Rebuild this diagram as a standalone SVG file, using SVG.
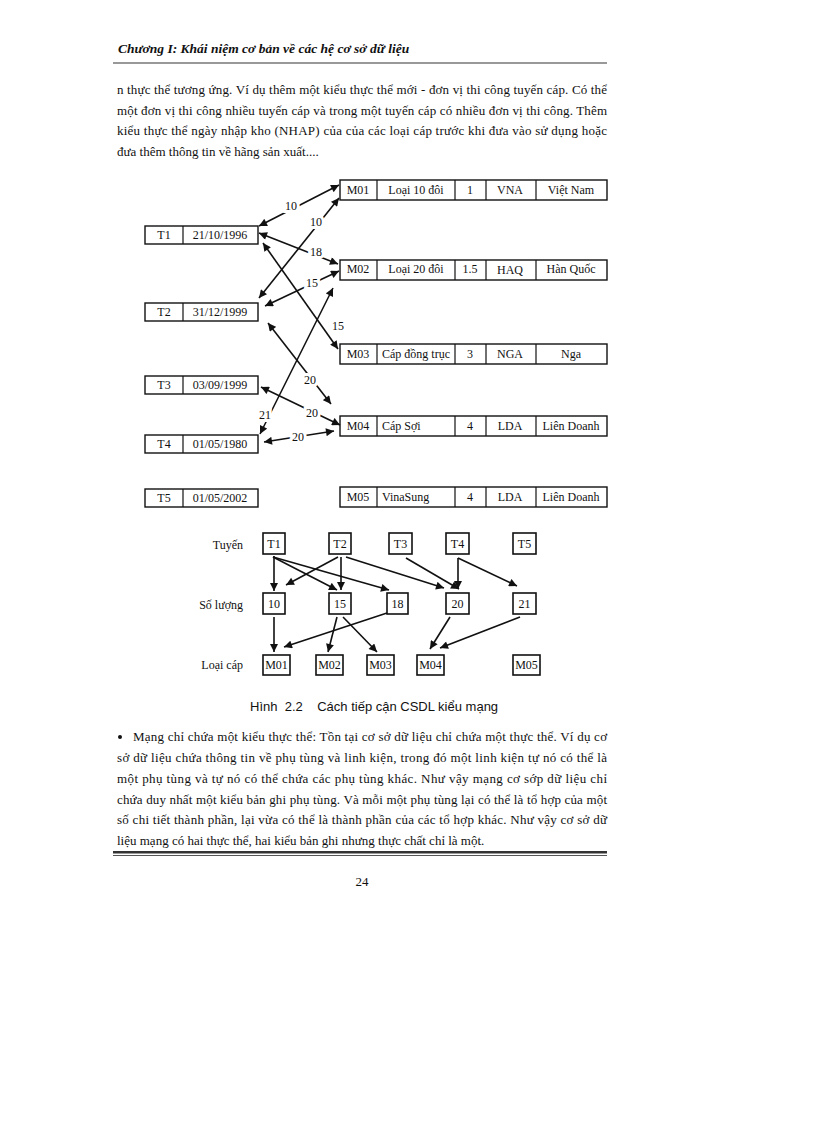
<svg xmlns="http://www.w3.org/2000/svg" width="816" height="1123" viewBox="0 0 816 1123">
<style>
.body{font-family:"Liberation Serif","Times New Roman",serif;font-size:13px;fill:#111}
.hdr{font-family:"Liberation Serif","Times New Roman",serif;font-size:13.5px;font-weight:bold;font-style:italic;fill:#111}
.cap{font-family:"Liberation Sans",Arial,sans-serif;font-size:13px;fill:#111}
.dt{font-family:"Liberation Serif","Times New Roman",serif;font-size:12px;fill:#111}
.mid{text-anchor:middle}
.box{fill:#fff;stroke:#111;stroke-width:1.4}
.sbox{fill:#fff;stroke:#111;stroke-width:1.6}
.div{stroke:#111;stroke-width:1.2}
.con{stroke:#111;stroke-width:1.6;fill:none;marker-end:url(#ah)}
.dbl{stroke:#111;stroke-width:1.6;fill:none;marker-end:url(#ah);marker-start:url(#ah)}
.lbl{font-family:"Liberation Serif","Times New Roman",serif;font-size:12px;fill:#111;stroke:#fff;stroke-width:6;paint-order:stroke;text-anchor:middle}
</style>
<defs>
<marker id="ah" viewBox="0 0 10 10" refX="10" refY="5" markerWidth="9" markerHeight="8" markerUnits="userSpaceOnUse" orient="auto-start-reverse"><path d="M0,0 L10,5 L0,10 z" fill="#111"/></marker>
</defs>
<rect width="816" height="1123" fill="#fff"/>

<g id="header">
<text class="hdr" x="118" y="53">Chương I:  Khái niệm cơ bản về các hệ cơ sở dữ liệu</text>
<line x1="113" y1="63" x2="607" y2="63" stroke="#999" stroke-width="2"/>
</g>

<g id="para1" class="body">
<text x="117" y="94" textLength="490" lengthAdjust="spacing">n thực thể tương ứng. Ví dụ thêm một kiểu thực thể mới - đơn vị thi công tuyến cáp. Có thể</text>
<text x="117" y="115" textLength="490" lengthAdjust="spacing">một đơn vị thi công nhiều tuyến cáp và trong một tuyến cáp có nhiều đơn vị thi công. Thêm</text>
<text x="117" y="135" textLength="490" lengthAdjust="spacing">kiểu thực thể ngày nhập kho (NHAP) của của các loại cáp trước khi đưa vào sử dụng hoặc</text>
<text x="117" y="156">đưa thêm thông tin về hãng sản xuất....</text>
</g>

<!-- Upper network diagram -->
<g id="T1"><rect class="box" x="145" y="226" width="113" height="18"/><line class="div" x1="183" y1="226" x2="183" y2="244"/><text class="dt mid" x="164" y="239">T1</text><text class="dt mid" x="220" y="239">21/10/1996</text></g>
<g id="T2"><rect class="box" x="145" y="303" width="113" height="18"/><line class="div" x1="183" y1="303" x2="183" y2="321"/><text class="dt mid" x="164" y="316">T2</text><text class="dt mid" x="220" y="316">31/12/1999</text></g>
<g id="T3"><rect class="box" x="145" y="376" width="113" height="18"/><line class="div" x1="183" y1="376" x2="183" y2="394"/><text class="dt mid" x="164" y="389">T3</text><text class="dt mid" x="220" y="389">03/09/1999</text></g>
<g id="T4"><rect class="box" x="145" y="435" width="113" height="18"/><line class="div" x1="183" y1="435" x2="183" y2="453"/><text class="dt mid" x="164" y="448">T4</text><text class="dt mid" x="220" y="448">01/05/1980</text></g>
<g id="T5"><rect class="box" x="145" y="489" width="113" height="18"/><line class="div" x1="183" y1="489" x2="183" y2="507"/><text class="dt mid" x="164" y="502">T5</text><text class="dt mid" x="220" y="502">01/05/2002</text></g>

<g id="M01"><rect class="box" x="340" y="180" width="267" height="20"/><line class="div" x1="377" y1="180" x2="377" y2="200"/><line class="div" x1="455" y1="180" x2="455" y2="200"/><line class="div" x1="486" y1="180" x2="486" y2="200"/><line class="div" x1="536" y1="180" x2="536" y2="200"/>
<text class="dt mid" x="358" y="194">M01</text><text class="dt mid" x="416" y="194">Loại 10 đôi</text><text class="dt mid" x="470" y="194">1</text><text class="dt mid" x="510" y="194">VNA</text><text class="dt mid" x="571" y="194">Việt Nam</text></g>
<g id="M02"><rect class="box" x="340" y="260" width="267" height="20"/><line class="div" x1="377" y1="260" x2="377" y2="280"/><line class="div" x1="455" y1="260" x2="455" y2="280"/><line class="div" x1="486" y1="260" x2="486" y2="280"/><line class="div" x1="536" y1="260" x2="536" y2="280"/>
<text class="dt mid" x="358" y="273">M02</text><text class="dt mid" x="416" y="273">Loại 20 đôi</text><text class="dt mid" x="470" y="273">1.5</text><text class="dt mid" x="510" y="274">HAQ</text><text class="dt mid" x="571" y="273">Hàn Quốc</text></g>
<g id="M03"><rect class="box" x="340" y="344" width="267" height="20"/><line class="div" x1="377" y1="344" x2="377" y2="364"/><line class="div" x1="455" y1="344" x2="455" y2="364"/><line class="div" x1="486" y1="344" x2="486" y2="364"/><line class="div" x1="536" y1="344" x2="536" y2="364"/>
<text class="dt mid" x="358" y="358">M03</text><text class="dt mid" x="416" y="358">Cáp đồng trục</text><text class="dt mid" x="470" y="358">3</text><text class="dt mid" x="510" y="358">NGA</text><text class="dt mid" x="571" y="358">Nga</text></g>
<g id="M04"><rect class="box" x="340" y="416" width="267" height="20"/><line class="div" x1="377" y1="416" x2="377" y2="436"/><line class="div" x1="455" y1="416" x2="455" y2="436"/><line class="div" x1="486" y1="416" x2="486" y2="436"/><line class="div" x1="536" y1="416" x2="536" y2="436"/>
<text class="dt mid" x="358" y="430">M04</text><text class="dt" x="382" y="430">Cáp Sợi</text><text class="dt mid" x="470" y="430">4</text><text class="dt mid" x="510" y="430">LDA</text><text class="dt mid" x="571" y="430">Liên Doanh</text></g>
<g id="M05"><rect class="box" x="340" y="487" width="267" height="20"/><line class="div" x1="377" y1="487" x2="377" y2="507"/><line class="div" x1="455" y1="487" x2="455" y2="507"/><line class="div" x1="486" y1="487" x2="486" y2="507"/><line class="div" x1="536" y1="487" x2="536" y2="507"/>
<text class="dt mid" x="358" y="501">M05</text><text class="dt" x="382" y="501">VinaSung</text><text class="dt mid" x="470" y="501">4</text><text class="dt mid" x="510" y="501">LDA</text><text class="dt mid" x="571" y="501">Liên Doanh</text></g>

<g id="connectors-upper">
<line class="dbl" x1="259" y1="226" x2="339" y2="185"/>
<line class="dbl" x1="259" y1="298" x2="339" y2="198"/>
<line class="dbl" x1="259" y1="233" x2="338" y2="264"/>
<line class="dbl" x1="265" y1="306" x2="339" y2="271"/>
<line class="dbl" x1="263" y1="243" x2="338" y2="349"/>
<line class="dbl" x1="260" y1="434" x2="333" y2="288"/>
<line class="dbl" x1="268" y1="323" x2="331" y2="404"/>
<line class="dbl" x1="261" y1="387" x2="340" y2="425"/>
<line class="dbl" x1="264" y1="442" x2="334" y2="431"/>
<text class="lbl" x="291" y="210">10</text>
<text class="lbl" x="316" y="226">10</text>
<text class="lbl" x="316" y="256">18</text>
<text class="lbl" x="312" y="287">15</text>
<text class="dt mid" x="338" y="330">15</text>
<text class="lbl" x="265" y="419">21</text>
<text class="lbl" x="310" y="384">20</text>
<text class="lbl" x="312" y="417">20</text>
<text class="lbl" x="298" y="441">20</text>
</g>

<!-- Lower diagram -->
<g id="rowlabels" class="dt">
<text x="243" y="549" text-anchor="end">Tuyến</text>
<text x="243" y="609" text-anchor="end">Số lượng</text>
<text x="243" y="669" text-anchor="end">Loại cáp</text>
</g>
<g id="lT1"><rect class="sbox" x="263" y="533" width="22" height="21"/><text class="dt mid" x="274" y="548">T1</text></g>
<g id="lT2"><rect class="sbox" x="329" y="533" width="22" height="21"/><text class="dt mid" x="340" y="548">T2</text></g>
<g id="lT3"><rect class="sbox" x="389" y="533" width="23" height="21"/><text class="dt mid" x="400.5" y="548">T3</text></g>
<g id="lT4"><rect class="sbox" x="446" y="533" width="23" height="21"/><text class="dt mid" x="457.5" y="548">T4</text></g>
<g id="lT5"><rect class="sbox" x="513" y="533" width="23" height="21"/><text class="dt mid" x="524.5" y="548">T5</text></g>
<g id="n10"><rect class="sbox" x="263" y="593" width="22" height="21"/><text class="dt mid" x="274" y="608">10</text></g>
<g id="n15"><rect class="sbox" x="329" y="593" width="22" height="21"/><text class="dt mid" x="340" y="608">15</text></g>
<g id="n18"><rect class="sbox" x="387" y="593" width="21" height="21"/><text class="dt mid" x="397.5" y="608">18</text></g>
<g id="n20"><rect class="sbox" x="446" y="593" width="23" height="21"/><text class="dt mid" x="457.5" y="608">20</text></g>
<g id="n21"><rect class="sbox" x="513" y="593" width="23" height="21"/><text class="dt mid" x="524.5" y="608">21</text></g>
<g id="lM01"><rect class="sbox" x="263" y="655" width="27" height="20"/><text class="dt mid" x="276.5" y="669">M01</text></g>
<g id="lM02"><rect class="sbox" x="316" y="655" width="27" height="20"/><text class="dt mid" x="329.5" y="669">M02</text></g>
<g id="lM03"><rect class="sbox" x="367" y="655" width="27" height="20"/><text class="dt mid" x="380.5" y="669">M03</text></g>
<g id="lM04"><rect class="sbox" x="417" y="655" width="27" height="20"/><text class="dt mid" x="430.5" y="669">M04</text></g>
<g id="lM05"><rect class="sbox" x="513" y="655" width="27" height="20"/><text class="dt mid" x="526.5" y="669">M05</text></g>

<g id="connectors-lower">
<line class="con" x1="274" y1="556" x2="274" y2="591"/>
<line class="con" x1="273" y1="557" x2="337" y2="590"/>
<line class="con" x1="273" y1="557" x2="389" y2="590"/>
<line class="con" x1="338" y1="557" x2="286" y2="585"/>
<line class="con" x1="341" y1="557" x2="341" y2="590"/>
<line class="con" x1="346" y1="557" x2="444" y2="588"/>
<line class="con" x1="406" y1="558" x2="459" y2="589"/>
<line class="con" x1="458" y1="558" x2="458" y2="589"/>
<line class="con" x1="458" y1="558" x2="517" y2="586"/>
<line class="con" x1="274" y1="617" x2="274" y2="652"/>
<line class="con" x1="337" y1="617" x2="328" y2="652"/>
<line class="con" x1="343" y1="617" x2="377" y2="652"/>
<line class="con" x1="387" y1="613" x2="284" y2="647"/>
<line class="con" x1="450" y1="617" x2="430" y2="649"/>
<line class="con" x1="520" y1="617" x2="440" y2="648"/>
</g>

<text class="cap" x="250" y="711" xml:space="preserve">Hình  2.2    Cách tiếp cận CSDL kiểu mạng</text>

<g id="para2" class="body">
<circle cx="120" cy="737" r="2" fill="#111"/>
<text x="133" y="741" textLength="474" lengthAdjust="spacing">Mạng chỉ chứa một kiểu thực thể: Tồn tại cơ sở dữ liệu chỉ chứa một thực thể. Ví dụ cơ</text>
<text x="117" y="762" textLength="490" lengthAdjust="spacing">sở dữ liệu chứa thông tin về phụ tùng và linh kiện, trong đó một linh kiện tự nó có thể là</text>
<text x="117" y="783" textLength="490" lengthAdjust="spacing">một phụ tùng và tự nó có thể chứa các phụ tùng khác. Như vậy mạng cơ sớp dữ liệu chỉ</text>
<text x="117" y="804" textLength="490" lengthAdjust="spacing">chứa duy nhất một kiểu bản ghi phụ tùng. Và mỗi một phụ tùng lại có thể là tổ hợp của một</text>
<text x="117" y="824" textLength="490" lengthAdjust="spacing">số chi tiết thành phần, lại vừa có thể là thành phần của các tổ hợp khác. Như vậy cơ sở dữ</text>
<text x="117" y="845">liệu mạng có hai thực thể, hai kiểu bản ghi nhưng thực chất chỉ là một.</text>
</g>

<g id="footer">
<rect x="113" y="851" width="494" height="2.5" fill="#333"/>
<line x1="113" y1="855.5" x2="607" y2="855.5" stroke="#555" stroke-width="1"/>
<text class="body mid" x="362" y="886">24</text>
</g>
</svg>
